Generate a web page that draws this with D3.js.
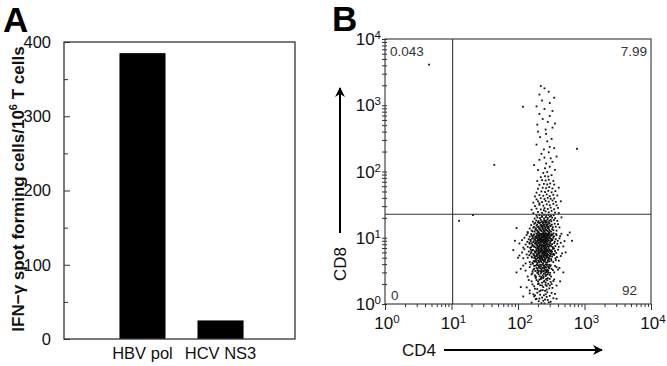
<!DOCTYPE html>
<html><head><meta charset="utf-8">
<script src="https://cdn.jsdelivr.net/npm/d3@7"></script>
<style>
html,body{margin:0;padding:0;background:#fff;}
svg{display:block;font-family:"Liberation Sans",Arial,sans-serif;}
</style></head><body>
<svg id="chart" width="667" height="366"></svg>
<script>
// ---------- Panel A data ----------
const antigens = ["HBV pol", "HCV NS3"];
const spotCounts = [385, 25];
const yTicksA = [0, 100, 200, 300, 400];
const yMinorA = [50, 150, 250, 350];

// ---------- Panel B data ----------
const logDecades = [1, 10, 100, 1000, 10000];
const decadeExp = ["0", "1", "2", "3", "4"];
const cd4Gate = 10.4;
const cd8Gate = 22.6;
const quadrantLabels = ["0.043", "7.99", "0", "92"];
// events: [CD4, CD8] fluorescence
const events = [
[160,1.05],[205,1.1],[250,1.02],[310,1.08],[190,1.2],[230,1.25],[280,1.15],[175,1.3],[340,1.22],[215,1.38],[260,1.4],[150,1.45],[300,1.33],[240,1.12],[195,1.48],[360,1.42],[225,1.03],[270,1.28],[185,1.18],[320,1.47],[245,1.35],[210,1.21],[290,1.06],[170,1.4],[255,1.17],
[150,1.6],[180,1.7],[210,1.55],[240,1.8],[270,1.65],[300,1.9],[330,1.75],[200,2.0],[230,2.1],[260,1.95],[160,2.2],[190,2.3],[220,2.4],[250,2.25],[280,2.45],[310,2.15],[350,2.35],[175,1.85],[205,2.05],[235,1.62],[265,2.38],[295,1.72],[145,2.3],[320,2.0],[185,2.48],[215,1.92],[245,2.18],[275,2.28],[380,1.9],[165,1.98],[225,2.42],[255,1.58],[285,2.02],[195,1.68],[340,2.22],[210,2.33],[240,2.47],[270,1.88],[300,2.4],[135,1.78],
[140,2.6],[160,2.8],[180,2.7],[200,3.0],[220,2.9],[240,3.2],[260,2.65],[280,3.1],[300,2.75],[320,3.4],[350,3.0],[380,3.6],[170,3.3],[190,3.5],[210,3.7],[230,3.9],[250,3.45],[270,3.8],[290,3.55],[310,3.85],[150,3.6],[130,3.2],[155,3.95],[185,2.55],[205,3.15],[225,3.35],[245,2.85],[265,3.05],[285,3.65],[305,2.95],[335,3.25],[175,3.75],[195,2.95],[215,3.45],[235,2.7],[255,3.6],[275,3.3],[295,3.9],[315,2.6],[360,3.75],[400,3.3],[120,3.8],[165,2.9],[200,3.85],[228,3.05],[248,3.75],[268,3.2],[212,2.62],[238,3.55],[258,2.95],[182,3.15],[192,3.9],[222,3.65],[242,2.58],[262,3.95],[218,3.1],[198,3.4],[278,2.8],[420,3.5],[110,3.4],
[130,4.1],[150,4.3],[165,4.2],[180,4.5],[195,4.15],[205,4.4],[215,4.7],[225,4.25],[235,4.6],[245,4.35],[255,4.8],[265,4.2],[280,4.55],[295,4.4],[315,4.75],[340,4.3],[370,4.6],[410,4.5],[120,4.9],
[140,5.0],[160,5.2],[175,4.95],[188,5.3],[198,5.1],[208,5.4],[218,5.0],[228,5.25],[238,5.5],[248,5.05],[258,5.35],[268,5.15],[278,5.45],[290,5.0],[305,5.3],[325,5.2],[350,5.5],[385,5.1],[440,5.3],[105,5.4],
[135,5.6],[155,5.8],[170,5.7],[182,5.95],[192,5.65],[202,6.0],[212,5.75],[222,6.1],[232,5.85],[242,5.6],[252,6.05],[262,5.9],[272,5.7],[285,6.1],[300,5.8],[320,6.0],[345,5.7],[375,5.9],[460,5.8],[115,6.0],
[145,6.2],[162,6.4],[178,6.25],[190,6.5],[200,6.3],[210,6.6],[220,6.35],[230,6.7],[240,6.2],[250,6.55],[260,6.4],[270,6.75],[282,6.3],[298,6.6],[315,6.45],[335,6.8],[360,6.3],[400,6.6],[125,6.7],
[172,4.45],[186,4.8],[201,4.55],[211,4.9],[221,4.45],[231,4.85],[241,5.6],[251,5.75],[196,5.55],[216,5.25],[226,6.45],[236,6.0],[246,6.85],[206,6.8],[186,6.1],[266,6.15],[276,5.1],[256,4.5],[176,5.35],[156,6.6],[290,4.8],[305,6.2],[330,5.6],[350,6.9],[365,4.9],[198,6.9],[218,6.95],[238,4.65],[258,6.9],[208,5.85],[228,4.95],[248,6.25],[268,5.55],[188,4.35],[148,5.45],[278,6.55],
[120,7.1],[140,7.3],[158,7.2],[172,7.5],[185,7.15],[196,7.4],[206,7.25],[216,7.6],[226,7.1],[236,7.45],[246,7.3],[256,7.65],[266,7.2],[278,7.5],[292,7.35],[310,7.6],[335,7.2],[365,7.5],[410,7.3],[480,7.4],
[130,7.9],[150,8.1],[166,7.85],[180,8.2],[192,7.95],[202,8.3],[212,8.0],[222,8.4],[232,7.9],[242,8.25],[252,8.05],[262,8.45],[274,8.1],[288,7.95],[304,8.35],[325,8.0],[350,8.3],[390,8.1],[440,8.4],[105,8.2],
[138,8.7],[155,8.9],[170,8.6],[184,9.0],[195,8.75],[205,9.1],[215,8.8],[225,9.2],[235,8.65],[245,9.05],[255,8.85],[265,9.25],[277,8.7],[291,9.1],[308,8.9],[330,9.2],[358,8.75],[395,9.0],[500,8.9],[115,9.2],
[145,9.5],[162,9.7],[176,9.4],[189,9.8],[199,9.55],[209,9.9],[219,9.6],[229,10.0],[239,9.45],[249,9.85],[259,9.65],[269,10.1],[281,9.5],[296,9.9],[314,9.6],[338,10.0],[368,9.55],[420,9.8],[125,10.0],
[150,10.4],[167,10.6],[181,10.3],[194,10.8],[204,10.5],[214,10.9],[224,10.4],[234,10.7],[244,11.0],[254,10.35],[264,10.75],[274,10.5],[287,10.9],[302,10.45],[322,10.8],[348,10.5],[380,10.9],[430,10.6],[135,11.0],
[158,11.4],[174,11.2],[188,11.6],[200,11.3],[210,11.7],[220,11.25],[230,11.55],[240,11.9],[250,11.35],[260,11.75],[270,11.15],[283,11.5],[298,11.8],[318,11.3],[342,11.65],[375,11.4],[450,11.5],[140,11.8],
[198,7.7],[218,8.55],[238,9.35],[258,10.2],[228,7.55],[248,8.6],[268,9.45],[208,10.25],[188,8.45],[278,11.05],[212,9.35],[232,10.25],[252,7.8],[272,8.8],[192,10.15],[242,11.45],[222,9.75],[262,9.0],
[140,12.2],[160,12.8],[178,12.4],[192,13.0],[204,12.3],[216,13.2],[228,12.6],[240,13.4],[252,12.5],[264,13.1],[278,12.7],[294,13.3],[315,12.4],[340,13.0],[380,12.8],
[150,13.8],[170,14.2],[186,13.9],[200,14.5],[212,14.0],[224,14.8],[236,14.3],[248,14.9],[260,14.1],[274,14.6],[290,14.2],[310,14.9],[335,14.4],[370,14.7],[420,14.3],
[158,15.5],[176,16.2],[194,15.8],[208,16.6],[222,15.6],[236,16.4],[250,15.9],[264,16.8],[280,16.0],[298,16.5],[322,15.7],[355,16.3],[400,16.0],
[168,17.5],[188,18.2],[204,17.8],[220,18.6],[234,17.6],[248,18.4],[262,17.9],[278,18.8],[296,18.1],[318,17.7],[348,18.5],[390,18.0],
[178,19.5],[196,20.2],[214,19.8],[230,20.6],[246,19.6],[262,20.4],[280,19.9],[300,20.8],[326,20.1],[362,19.7],[450,20.3],
[190,21.5],[210,22.0],[228,21.3],[246,22.2],[266,21.6],[288,22.1],[314,21.4],[344,21.9],
[200,12.0],[244,12.1],[288,12.15],[230,15.1],[270,15.3],[256,17.2],
[165,3.1],[175,3.4],[185,3.8],[195,3.2],[205,3.6],[215,3.9],[225,3.15],[235,3.5],[245,3.85],[255,3.25],[265,3.55],[275,3.95],[285,3.2],[295,3.45],[305,3.7],
[168,4.05],[178,4.35],[188,4.65],[198,4.95],[208,4.25],[218,4.55],[228,4.85],[238,4.1],[248,4.4],[258,4.7],[268,4.95],[278,4.3],[288,4.6],[298,4.9],[318,4.5],
[162,5.05],[172,5.55],[182,5.15],[192,5.45],[202,5.75],[212,5.1],[222,5.4],[232,5.7],[242,5.15],[252,5.45],[262,5.75],[272,5.25],[282,5.6],[296,5.35],[312,5.65],
[158,6.05],[168,6.55],[180,6.15],[190,6.75],[204,6.45],[214,6.15],[224,6.8],[234,6.35],[244,6.05],[254,6.7],[264,6.25],[274,6.5],[288,6.85],[304,6.4],[324,6.2],
[152,7.05],[164,7.6],[176,7.25],[188,7.85],[200,7.05],[210,7.45],[220,7.85],[230,7.3],[240,7.7],[250,7.15],[260,7.5],[270,7.9],[284,7.3],[300,7.75],[318,7.4],
[148,8.4],[160,8.25],[172,8.85],[184,8.35],[196,8.95],[206,8.45],[216,9.1],[226,8.6],[236,9.15],[246,8.4],[256,9.3],[266,8.55],[280,9.2],[296,8.5],[316,9.0],
[154,9.3],[168,9.9],[180,9.55],[192,10.1],[202,9.35],[212,10.05],[222,9.5],[232,9.3],[242,10.2],[252,9.6],[262,10.3],[272,9.7],[286,10.15],[302,9.8],[326,9.4],
[160,10.8],[172,11.1],[184,10.45],[196,11.15],[206,10.7],[216,11.4],[226,10.95],[236,11.3],[246,10.6],[256,11.1],[266,11.5],[278,10.7],[292,11.2],[310,10.9],[332,11.2],
[166,12.5],[182,13.3],[196,12.7],[208,13.6],[220,12.9],[232,13.8],[244,12.8],[256,13.6],[268,12.9],[282,13.9],[300,12.7],[326,13.5],
[174,14.6],[190,15.2],[204,14.7],[218,15.4],[230,14.6],[242,15.5],[254,14.7],[268,15.7],[284,14.8],[304,15.3],
[182,16.8],[200,17.2],[216,16.9],[228,17.4],[242,17.1],[258,18.1],[272,17.3],[290,17.0],[310,18.6],
[184,2.6],[204,2.8],[224,2.55],[244,3.1],[264,2.75],[284,2.95],[200,2.2],[230,1.9],[260,2.1],[180,1.35],[220,1.6],[275,1.5],
[170,23.5],[200,24.5],[230,23.8],[260,25.0],[290,24.2],[320,25.5],[360,24.0],[410,23.6],
[160,26.5],[190,27.5],[220,26.8],[250,28.0],[280,27.2],[310,28.5],[350,27.0],[400,28.2],
[180,30.0],[210,31.5],[240,30.5],[270,32.0],[300,31.0],[340,32.5],[380,30.8],
[170,34.0],[200,35.5],[230,34.5],[260,36.0],[290,35.0],[330,36.5],[370,34.8],[440,35.5],
[190,38.0],[220,39.5],[250,38.5],[280,40.0],[310,38.8],[350,39.2],[210,33.0],[245,26.0],
[180,42],[210,44],[240,43],[270,45],[300,42.5],[340,44.5],[390,43.5],
[190,48],[225,50],[255,49],[285,51],[320,48.5],[365,50.5],
[200,55],[235,57],[265,56],[295,58],[330,55.5],[410,57],
[210,63],[245,65],[275,64],[305,66],[350,63.5],
[195,72],[230,74],[260,73],[290,75],[340,72],
[220,82],[255,85],[285,84],[320,88],[240,95],[275,98],
[200,105],[255,112],[300,118],[360,106],[175,125],[265,132],[330,140],
[210,150],[250,162],[310,158],[380,168],[225,185],[290,195],
[245,215],[300,235],[350,225],[190,255],[275,285],[320,310],[215,330],[265,370],[200,400],
[260,430],[330,460],[195,510],[280,560],[360,530],[235,620],[300,690],[210,740],
[330,820],[250,880],[190,960],[300,1080],[230,1180],[350,1300],[210,1450],[290,1600],[250,1800],[220,1950],
[4.6,4100],[119,950],[770,220],[44,126],[13,18],[21,22],[95,14],[600,12],[650,9],[85,6.5],
[90,9],[100,5],[520,6],[560,11],[95,3],[480,3],[110,1.8],[430,2.2],[120,1.3],[380,1.2]
];

const svg = d3.select("#chart");
const font = '"Liberation Sans",Arial,sans-serif';

// =============== PANEL A ===============
const A = {l: 64, r: 295, t: 42, b: 339};
const xA = d3.scaleBand().domain(antigens).range([A.l + 2, A.r + 2]).paddingInner(0.41).paddingOuter(0.685);
const yA = d3.scaleLinear().domain([0, 400]).range([A.b, A.t]);

svg.append("text").attr("x", 3).attr("y", 32).attr("font-size", 35).attr("font-weight", "bold").text("A");

const gA = svg.append("g");
gA.selectAll("rect.bar").data(antigens).join("rect")
  .attr("class", "bar")
  .attr("x", d => xA(d)).attr("width", xA.bandwidth())
  .attr("y", (d, i) => yA(spotCounts[i]))
  .attr("height", (d, i) => yA(0) - yA(spotCounts[i]))
  .attr("fill", "#000");

gA.append("rect").attr("x", A.l).attr("y", A.t).attr("width", A.r - A.l).attr("height", A.b - A.t)
  .attr("fill", "none").attr("stroke", "#333").attr("stroke-width", 1.3);

const axA = d3.axisLeft(yA).tickValues(yTicksA).tickSize(-6).tickPadding(13);
const gAy = gA.append("g").attr("transform", `translate(${A.l},0)`).call(axA);
gAy.select(".domain").remove();
gAy.selectAll("line").attr("stroke", "#333");
gAy.selectAll("text").attr("font-size", 16.5).attr("font-family", font).attr("fill", "#111");
const gAm = gA.append("g").attr("transform", `translate(${A.l},0)`).call(d3.axisLeft(yA).tickValues(yMinorA).tickSize(-4).tickFormat(""));
gAm.select(".domain").remove();
gAm.selectAll("line").attr("stroke", "#333");

gA.selectAll("text.cat").data(antigens).join("text")
  .attr("class", "cat")
  .attr("x", d => xA(d) + xA.bandwidth() / 2).attr("y", 359)
  .attr("text-anchor", "middle").attr("font-size", 16.5).attr("fill", "#111").text(d => d);

const yt = svg.append("text").attr("transform", "translate(24,189) rotate(-90)")
  .attr("text-anchor", "middle").attr("font-size", 17).attr("font-weight", "bold").attr("fill", "#111");
yt.append("tspan").text("IFN\u2212\u03B3 spot forming cells/10");
yt.append("tspan").attr("font-size", 11).attr("dy", -7).text("6");
yt.append("tspan").attr("dy", 7).text(" T cells");

// =============== PANEL B ===============
const B = {l: 385, r: 651, t: 39, b: 304};
const xB = d3.scaleLog().domain([1, 10000]).range([B.l, B.r]);
const yB = d3.scaleLog().domain([1, 10000]).range([B.b, B.t]);

svg.append("text").attr("x", 332).attr("y", 31).attr("font-size", 35).attr("font-weight", "bold").text("B");

const gB = svg.append("g");
const minorVals = [];
for (let d = 0; d < 4; d++) for (let m = 2; m <= 9; m++) minorVals.push(m * Math.pow(10, d));

gB.selectAll("rect.ev").data(events).join("rect")
  .attr("class", "ev")
  .attr("x", d => xB(d[0]) - 0.9).attr("y", d => yB(d[1]) - 0.9)
  .attr("width", 1.8).attr("height", 1.8).attr("fill", "#111");

gB.append("rect").attr("x", B.l).attr("y", B.t).attr("width", B.r - B.l).attr("height", B.b - B.t)
  .attr("fill", "none").attr("stroke", "#444").attr("stroke-width", 1.2);
gB.append("line").attr("x1", xB(cd4Gate)).attr("x2", xB(cd4Gate)).attr("y1", B.t).attr("y2", B.b).attr("stroke", "#333").attr("stroke-width", 1.1);
gB.append("line").attr("x1", B.l).attr("x2", B.r).attr("y1", yB(cd8Gate)).attr("y2", yB(cd8Gate)).attr("stroke", "#333").attr("stroke-width", 1.1);

const gBx = gB.append("g").attr("transform", `translate(0,${B.b})`);
gBx.call(d3.axisBottom(xB).tickValues(logDecades).tickSize(6).tickFormat(""));
gBx.append("g").call(d3.axisBottom(xB).tickValues(minorVals).tickSize(3).tickFormat(""));
gBx.selectAll(".domain").remove();
gBx.selectAll("line").attr("stroke", "#333");
const gBy = gB.append("g").attr("transform", `translate(${B.l},0)`);
gBy.call(d3.axisLeft(yB).tickValues(logDecades).tickSize(4).tickFormat(""));
gBy.append("g").call(d3.axisLeft(yB).tickValues(minorVals).tickSize(3).tickFormat(""));
gBy.selectAll(".domain").remove();
gBy.selectAll("line").attr("stroke", "#333");
gBy.selectAll(".tick line").attr("x2", -3).attr("x1", 2);

function decadeLabel(sel, i) {
  sel.append("tspan").text("10");
  sel.append("tspan").attr("font-size", 11.5).attr("dy", -6).text(decadeExp[i]);
}
logDecades.forEach((v, i) => {
  const t = svg.append("text").attr("x", xB(v) + 2).attr("y", 329).attr("text-anchor", "middle")
    .attr("font-size", 17).attr("fill", "#111");
  decadeLabel(t, i);
  const u = svg.append("text").attr("x", 381).attr("y", yB(v) + 6).attr("text-anchor", "end")
    .attr("font-size", 17).attr("fill", "#111");
  decadeLabel(u, i);
});

const qg = svg.append("g").attr("font-size", 13.5).attr("fill", "#333");
qg.append("text").attr("x", B.l + 5).attr("y", 56).text(quadrantLabels[0]);
qg.append("text").attr("x", B.r - 4).attr("y", 56).attr("text-anchor", "end").text(quadrantLabels[1]);
qg.append("text").attr("x", B.l + 6).attr("y", 300).text(quadrantLabels[2]);
qg.append("text").attr("x", B.r - 14).attr("y", 295).attr("text-anchor", "end").text(quadrantLabels[3]);

svg.append("defs").append("marker").attr("id", "arr").attr("viewBox", "0 0 10 10")
  .attr("refX", 9).attr("refY", 5).attr("markerWidth", 5).attr("markerHeight", 5).attr("orient", "auto")
  .append("path").attr("d", "M0,0 L10,5 L0,10 L3,5 Z").attr("fill", "#000");
svg.append("text").attr("x", 402).attr("y", 356).attr("font-size", 17).attr("fill", "#111").text("CD4");
svg.append("line").attr("x1", 444).attr("x2", 602).attr("y1", 350).attr("y2", 350)
  .attr("stroke", "#000").attr("stroke-width", 2).attr("marker-end", "url(#arr)");
svg.append("text").attr("transform", "translate(346,264) rotate(-90)").attr("text-anchor", "middle")
  .attr("font-size", 17).attr("fill", "#111").text("CD8");
svg.append("line").attr("x1", 340).attr("x2", 340).attr("y1", 233).attr("y2", 88)
  .attr("stroke", "#000").attr("stroke-width", 2).attr("marker-end", "url(#arr)");
</script>
</body></html>
